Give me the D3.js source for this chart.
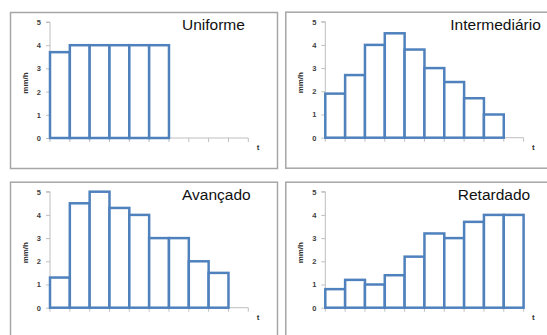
<!DOCTYPE html>
<html><head><meta charset="utf-8">
<script src="https://cdn.jsdelivr.net/npm/d3@7"></script>
<style>html,body{margin:0;padding:0;background:#fff;overflow:hidden}</style>
</head><body>
<svg id="c" width="547" height="335"></svg>
<script>
const categories = ["1","2","3","4","5","6","7","8","9","10"];
const yTicks = [0,1,2,3,4,5];
const titles = ["Uniforme","Intermediário","Avançado","Retardado"];
const uniforme = [3.7,4,4,4,4,4];
const intermediario = [1.9,2.7,4.0,4.5,3.8,3.0,2.4,1.7,1.0];
const avancado = [1.3,4.5,5.0,4.3,4.0,3.0,3.0,2.0,1.5];
const retardado = [0.8,1.2,1.0,1.4,2.2,3.2,3.0,3.7,4.0,4.0];
const series = [uniforme, intermediario, avancado, retardado];

const svg = d3.select("#c");
const panels = [
  {ox:0, oy:0, titleX:182},
  {ox:275.3, oy:-0.3, titleX:175},
  {ox:0, oy:169.7, titleX:182},
  {ox:275.3, oy:169.7, titleX:182.5}
];
const blue = "#4f81bd";
panels.forEach((p, i) => {
  const g = svg.append("g").attr("transform", `translate(${p.ox},${p.oy})`);
  g.append("rect").attr("x",10.5).attr("y",12.5).attr("width",267).attr("height",156)
    .attr("fill","#fff").attr("stroke","#a6a6a6").attr("stroke-width",1.5);
  const x = d3.scaleBand().domain(categories).range([50, 248.3]).padding(0);
  const y = d3.scaleLinear().domain([0,5]).range([138, 22]);
  const ya = g.append("g").attr("transform","translate(50,0)")
    .call(d3.axisLeft(y).tickValues(yTicks).tickSize(4).tickPadding(5).tickFormat(d3.format("d")));
  ya.select(".domain").attr("stroke","#bfbfbf").attr("d","M-4,22H0V138");
  ya.selectAll(".tick line").attr("stroke","#bfbfbf");
  ya.selectAll(".tick text").attr("font-family","Liberation Sans, Arial, sans-serif")
    .attr("font-size",7.5).attr("font-weight","bold").attr("fill","#404040");
  const xa = g.append("g").attr("transform","translate(0,138)")
    .call(d3.axisBottom(x).tickValues([]).tickSize(0));
  xa.select(".domain").attr("stroke","#bfbfbf").attr("d","M50,0H248.3");
  xa.selectAll(".xt").data(categories.concat(["end"])).enter().append("line")
    .attr("x1",(d,k)=> k<categories.length ? x(d) : 248.3)
    .attr("x2",(d,k)=> k<categories.length ? x(d) : 248.3)
    .attr("y1",0).attr("y2",4).attr("stroke","#bfbfbf");
  g.selectAll(".bar").data(series[i]).enter().append("rect")
    .attr("x",(d,k)=>x(categories[k]))
    .attr("y",d=>y(d))
    .attr("width",x.bandwidth())
    .attr("height",d=>y(0)-y(d))
    .attr("fill","#fff").attr("stroke",blue).attr("stroke-width",2.5);
  g.append("text").attr("x",258).attr("y",150).attr("text-anchor","middle")
    .attr("font-family","Liberation Sans, Arial, sans-serif").attr("font-size",8).attr("font-weight","bold")
    .attr("fill","#333").text("t");
  g.append("text").attr("transform","translate(28,83) rotate(-90)").attr("text-anchor","middle")
    .attr("font-family","Liberation Sans, Arial, sans-serif").attr("font-size",8).attr("font-weight","bold")
    .attr("fill","#333").text("mm/h");
  g.append("text").attr("x",p.titleX).attr("y",30)
    .attr("font-family","Liberation Sans, Arial, sans-serif").attr("font-size",15.5)
    .attr("fill","#111").text(titles[i]);
});
</script>
</body></html>
